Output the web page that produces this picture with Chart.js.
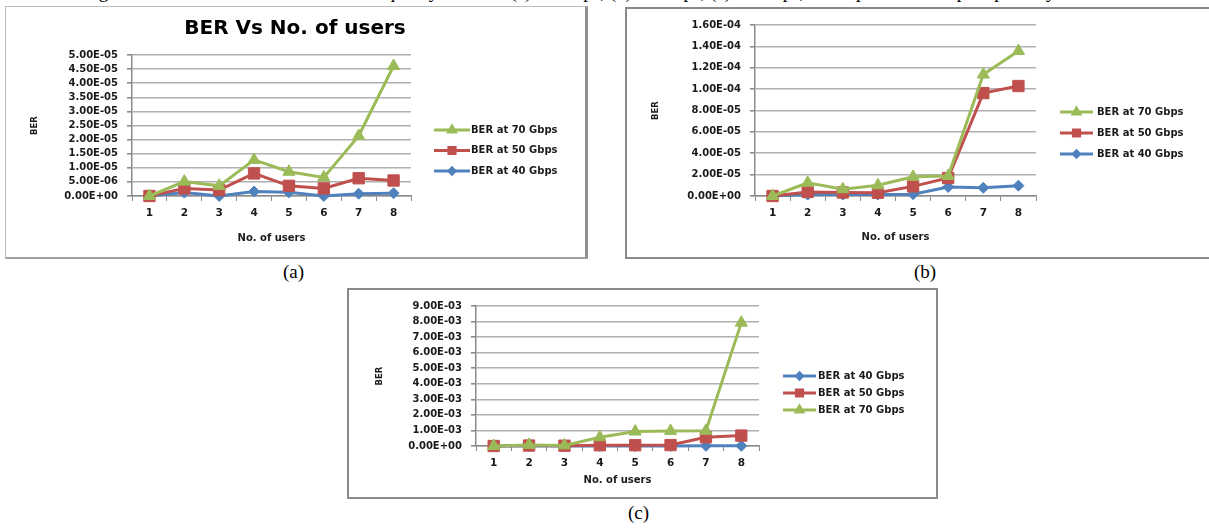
<!DOCTYPE html>
<html><head><meta charset="utf-8">
<script src="https://cdn.jsdelivr.net/npm/chart.js@4.4.1/dist/chart.umd.min.js"></script>
<style>
html,body{margin:0;padding:0;background:#fff;width:1209px;height:529px;overflow:hidden;position:relative;}
.frame{position:absolute;box-sizing:border-box;background:#fff;}
canvas{position:absolute;}
.cap{position:absolute;font-family:"Liberation Serif",serif;font-size:19px;color:#000;white-space:nowrap;line-height:19px;}
</style></head><body>
<div class="cap" style="left:83px;top:-18px;">Figure 3. BER vs number of users with quality factor at (a) 40 Gbps, (b) 50 Gbps, (c) 70 Gbps, 50 Gbps and 70 Gbps separately</div>
<div class="frame" style="left:5px;top:6px;width:583px;height:253px;border:1px solid #bdbdbd;border-right:3px solid #8f8f8f;border-bottom:2px solid #a0a0a0;"></div>
<div class="frame" style="left:625px;top:7px;width:590px;height:252px;border:2px solid #8a8a8a;"></div>
<div class="frame" style="left:347px;top:288px;width:591px;height:211px;border:2px solid #8a8a8a;"></div>
<canvas id="ca" width="578" height="250" style="left:6px;top:8px"></canvas>
<canvas id="cb" width="578" height="247" style="left:627px;top:10px"></canvas>
<canvas id="cc" width="585" height="205" style="left:350px;top:291px"></canvas>
<div class="cap" style="left:283px;top:262px;">(a)</div>
<div class="cap" style="left:914px;top:262px;">(b)</div>
<div class="cap" style="left:628px;top:503px;">(c)</div>
<script>
// ---- data ----
const categories = ['1','2','3','4','5','6','7','8'];
const seriesNames = ['BER at 40 Gbps','BER at 50 Gbps','BER at 70 Gbps'];

const ber40a = [0, 1.2e-6, 0, 1.6e-6, 1.3e-6, 0, 0.8e-6, 1.0e-6];
const ber50a = [0, 2.7e-6, 2.1e-6, 8.0e-6, 3.6e-6, 2.7e-6, 6.3e-6, 5.5e-6];
const ber70a = [0, 5.1e-6, 3.6e-6, 1.28e-5, 8.6e-6, 6.6e-6, 2.13e-5, 4.61e-5];

const ber40b = [0, 1.3e-6, 1.3e-6, 1.3e-6, 1.7e-6, 8.5e-6, 7.7e-6, 9.7e-6];
const ber50b = [0, 3.8e-6, 3.3e-6, 3.0e-6, 9.0e-6, 1.68e-5, 9.63e-5, 1.029e-4];
const ber70b = [0, 1.24e-5, 6.3e-6, 1.0e-5, 1.79e-5, 1.88e-5, 1.136e-4, 1.357e-4];

const ber40c = [0, 0, 0, 0, 0, 0, 1e-5, 1e-5];
const ber50c = [0, 3e-5, 2e-5, 5e-5, 5e-5, 6e-5, 5.6e-4, 6.7e-4];
const ber70c = [0, 7e-5, 4e-5, 5.6e-4, 9.3e-4, 9.7e-4, 9.8e-4, 7.93e-3];

const yTicksA = ['0.00E+00','5.00E-06','1.00E-05','1.50E-05','2.00E-05','2.50E-05','3.00E-05','3.50E-05','4.00E-05','4.50E-05','5.00E-05'];
const yTicksB = ['0.00E+00','2.00E-05','4.00E-05','6.00E-05','8.00E-05','1.00E-04','1.20E-04','1.40E-04','1.60E-04'];
const yTicksC = ['0.00E+00','1.00E-03','2.00E-03','3.00E-03','4.00E-03','5.00E-03','6.00E-03','7.00E-03','8.00E-03','9.00E-03'];

const titleA = 'BER Vs No. of users';
const xTitle = 'No. of users';
const yTitle = 'BER';

// ---- styles ----
const FONT = '"DejaVu Sans", sans-serif';
const styles = {
  40: {color:'#4F81BD', pointStyle:'rectRot', pointRadius:5.5},
  50: {color:'#C0504D', pointStyle:'rect', pointRadius:8},
  70: {color:'#9BBB59', pointStyle:'triangle', pointRadius:7}
};

function ds(label, data, key){
  const s = styles[key];
  return {label, data, borderColor:s.color, backgroundColor:s.color, pointBackgroundColor:s.color,
    pointBorderColor:s.color, pointBorderWidth:1, pointStyle:s.pointStyle, pointRadius:s.pointRadius,
    borderWidth:3, tension:0, clip:false};
}

const overlay = {
  id:'overlay',
  afterDraw(chart, args, o){
    const ctx = chart.ctx;
    ctx.save();
    if (o.title){
      ctx.font = 'bold 20px ' + FONT;
      ctx.fillStyle = '#000';
      ctx.textAlign = 'center';
      ctx.textBaseline = 'middle';
      ctx.fillText(o.title, o.titleX, o.titleY);
    }
    o.order.forEach((di, k) => {
      const d = chart.data.datasets[di];
      const y = o.legendY + k * o.legendGap;
      ctx.strokeStyle = d.borderColor;
      ctx.lineWidth = 3;
      ctx.beginPath(); ctx.moveTo(o.legendX, y); ctx.lineTo(o.legendX + o.legendLen, y); ctx.stroke();
      ctx.fillStyle = d.backgroundColor;
      ctx.strokeStyle = d.borderColor;
      Chart.helpers.drawPoint(ctx, {pointStyle:d.pointStyle, radius:d.pointRadius*0.55, borderWidth:1, rotation:0}, o.legendX + o.legendLen/2, y);
      ctx.fillStyle = '#1a1a1a';
      ctx.font = 'bold 10px ' + FONT;
      ctx.textAlign = 'left';
      ctx.textBaseline = 'middle';
      ctx.fillText(d.label, o.legendX + o.legendLen + o.textGap, y);
    });
    ctx.restore();
  }
};

function build(id, datasets, yLabels, L){
  const tickVals = yLabels.map(parseFloat);
  return new Chart(document.getElementById(id), {
    type:'line',
    data:{labels:categories, datasets},
    plugins:[overlay],
    options:{
      responsive:false, animation:false,
      layout:{padding:{left:L.padL, right:L.padR, top:L.padT, bottom:0}},
      plugins:{legend:{display:false}, tooltip:{enabled:false}, title:{display:false}, overlay:L.overlay},
      scales:{
        x:{
          offset:true,
          grid:{offset:true, drawOnChartArea:false, drawTicks:true, tickLength:5, color:'#8a8a8a', lineWidth:1},
          border:{color:'#8a8a8a', width:1.5},
          ticks:{font:{family:FONT, size:10.5, weight:'bold'}, color:'#1a1a1a', padding:6, maxRotation:0, autoSkip:false},
          title:{display:true, text:xTitle, font:{family:FONT, size:10, weight:'bold'}, color:'#1a1a1a', padding:{top:0, bottom:L.xTitlePad}},
          afterFit(s){ s.height = L.xH; }
        },
        y:{
          min:tickVals[0], max:tickVals[tickVals.length-1],
          afterBuildTicks(s){ s.ticks = tickVals.map(v => ({value:v})); },
          grid:{color:'#b0b0b0', lineWidth:1.6, tickLength:5, tickColor:'#8a8a8a'},
          border:{color:'#8a8a8a', width:1.5},
          ticks:{font:{family:FONT, size:10, weight:'bold'}, color:'#1a1a1a', padding:9, autoSkip:false,
            callback:(v, i) => yLabels[i]},
          title:{display:true, text:yTitle, font:{family:FONT, size:8.5, weight:'bold'}, color:'#1a1a1a', padding:{top:1, bottom:0}},
          afterFit(s){ s.width = L.yW; }
        }
      }
    }
  });
}

// draw order: green (70) on top, then red (50), blue (40) at bottom
build('ca', [ds(seriesNames[2], ber70a, 70), ds(seriesNames[1], ber50a, 50), ds(seriesNames[0], ber40a, 40)], yTicksA,
  {padL:23, yW:103, padT:47, padR:173, xH:62, xTitlePad:14,
   overlay:{title:titleA, titleX:289, titleY:21, order:[0,1,2], legendX:428, legendLen:36, textGap:1, legendY:122, legendGap:20.5}});

build('cb', [ds(seriesNames[2], ber70b, 70), ds(seriesNames[1], ber50b, 50), ds(seriesNames[0], ber40b, 40)], yTicksB,
  {padL:23, yW:105, padT:10, padR:169, xH:61, xTitlePad:14,
   overlay:{title:null, order:[0,1,2], legendX:433, legendLen:33, textGap:4, legendY:102, legendGap:21}});

build('cc', [ds(seriesNames[2], ber70c, 70), ds(seriesNames[1], ber50c, 50), ds(seriesNames[0], ber40c, 40)], yTicksC,
  {padL:24, yW:102, padT:9, padR:176, xH:50, xTitlePad:10,
   overlay:{title:null, order:[2,1,0], legendX:433, legendLen:33, textGap:2, legendY:85, legendGap:17}});
</script>
</body></html>
